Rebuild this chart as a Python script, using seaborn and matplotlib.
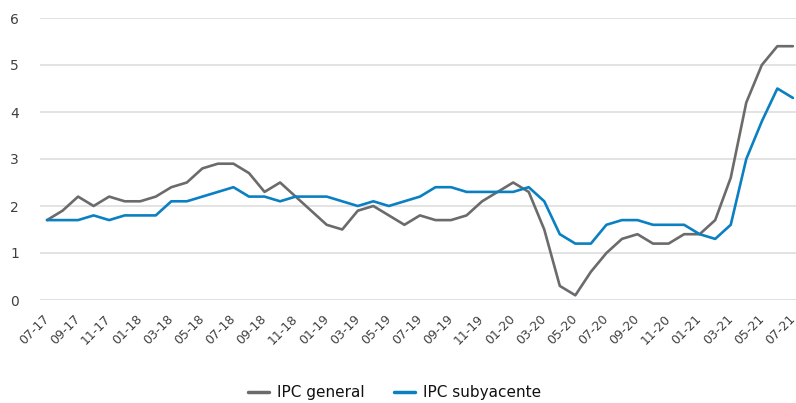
import matplotlib
matplotlib.use("Agg")
import matplotlib.pyplot as plt
import seaborn as sns
import pandas as pd

# Monthly months from 07-17 to 07-21
meses = ["07-17", "08-17", "09-17", "10-17", "11-17", "12-17",
         "01-18", "02-18", "03-18", "04-18", "05-18", "06-18",
         "07-18", "08-18", "09-18", "10-18", "11-18", "12-18",
         "01-19", "02-19", "03-19", "04-19", "05-19", "06-19",
         "07-19", "08-19", "09-19", "10-19", "11-19", "12-19",
         "01-20", "02-20", "03-20", "04-20", "05-20", "06-20",
         "07-20", "08-20", "09-20", "10-20", "11-20", "12-20",
         "01-21", "02-21", "03-21", "04-21", "05-21", "06-21",
         "07-21"]

ipc_general = [1.7, 1.9, 2.2, 2.0, 2.2, 2.1,
               2.1, 2.2, 2.4, 2.5, 2.8, 2.9,
               2.9, 2.7, 2.3, 2.5, 2.2, 1.9,
               1.6, 1.5, 1.9, 2.0, 1.8, 1.6,
               1.8, 1.7, 1.7, 1.8, 2.1, 2.3,
               2.5, 2.3, 1.5, 0.3, 0.1, 0.6,
               1.0, 1.3, 1.4, 1.2, 1.2, 1.4,
               1.4, 1.7, 2.6, 4.2, 5.0, 5.4,
               5.4]

ipc_subyacente = [1.7, 1.7, 1.7, 1.8, 1.7, 1.8,
                  1.8, 1.8, 2.1, 2.1, 2.2, 2.3,
                  2.4, 2.2, 2.2, 2.1, 2.2, 2.2,
                  2.2, 2.1, 2.0, 2.1, 2.0, 2.1,
                  2.2, 2.4, 2.4, 2.3, 2.3, 2.3,
                  2.3, 2.4, 2.1, 1.4, 1.2, 1.2,
                  1.6, 1.7, 1.7, 1.6, 1.6, 1.6,
                  1.4, 1.3, 1.6, 3.0, 3.8, 4.5,
                  4.3]

series = ["IPC general", "IPC subyacente"]
colores = ["#6b6b6b", "#0a80c2"]
y_ticks = [0, 1, 2, 3, 4, 5, 6]

df = pd.DataFrame({
    "idx": list(range(len(meses))) * 2,
    "valor": ipc_general + ipc_subyacente,
    "serie": [series[0]] * len(meses) + [series[1]] * len(meses),
})

sns.set_style("white")
plt.rcParams["font.family"] = ["DejaVu Sans"]

fig = plt.figure(figsize=(7.96, 4.03), dpi=100)
ax = fig.add_axes([40 / 796, 1 - 300 / 403, 1 - 40 / 796, (300 - 18) / 403])

sns.lineplot(data=df, x="idx", y="valor", hue="serie", hue_order=series,
             palette=colores, linewidth=1.9, ax=ax, legend=False)

ax.set_xlim(-0.45, 48.2)
ax.set_ylim(0, 6)
ax.set_yticks(y_ticks)
ax.set_yticklabels([str(v) for v in y_ticks], fontsize=10, color="#404040")
ax.set_xticks(range(0, len(meses), 2))
ax.set_xticklabels(meses[::2], rotation=45, ha="right", va="center",
                   rotation_mode="anchor", fontsize=9, color="#404040")
ax.tick_params(axis="both", length=0)
ax.tick_params(axis="y", pad=15)
ax.tick_params(axis="x", pad=12)
ax.set_xlabel("")
ax.set_ylabel("")

for v in y_ticks[1:]:
    ax.axhline(v, color="#dedede", linewidth=1.2, zorder=0)
ax.axhline(0, color="#cfd6e3", linewidth=1.8, zorder=0)

for s in ax.spines.values():
    s.set_visible(False)

handles = [plt.Line2D([], [], color=c, linewidth=2.5) for c in colores]
fig.legend(handles, series, loc="center", bbox_to_anchor=(0.496, 10 / 403),
           ncol=2, frameon=False, fontsize=11, handlelength=1.35,
           handletextpad=0.55, columnspacing=1.9, labelcolor="#111111")

fig.savefig("out.png", dpi=100)
